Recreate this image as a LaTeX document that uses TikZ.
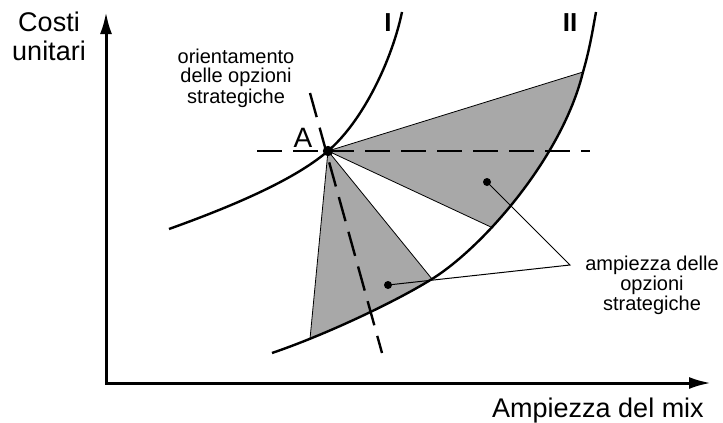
\documentclass[tikz,border=0pt]{standalone}
\usepackage{fontspec}
\setmainfont{Liberation Sans}
\usetikzlibrary{arrows.meta,calc}

\tikzset{
  axisline/.style={line width=1.5pt,
    {Latex[length=11pt,width=6pt]}-{Latex[length=11pt,width=6pt]}},
  curveline/.style={line width=1.2pt},
  guideline/.style={line width=1.2pt, dash pattern=on 12.5pt off 5.5pt},
  rayline/.style={line width=0.4pt},
  pointer/.style={line width=0.5pt},
  shade/.style={fill=black!34},
  smalltext/.style={font=\fontsize{10}{10}\selectfont, align=center, inner sep=0pt},
  bigtext/.style={font=\fontsize{13.5}{14.5}\selectfont, align=center, inner sep=0pt},
  curvelabel/.style={font=\fontsize{13}{13}\selectfont\bfseries, inner sep=0pt},
}

\begin{document}
\begin{tikzpicture}[x=0.5pt, y=-0.5pt]
\useasboundingbox (0,0) rectangle (723,423);

%% Key points (pixel grid, y downwards)
\coordinate (O) at (106,383);
\coordinate (ytip) at (106,12);
\coordinate (xtip) at (711,383);
\coordinate (A) at (328,151);
\coordinate (U1) at (583,72);   %% upper wedge, on curve II
\coordinate (U2) at (493,228);
\coordinate (L1) at (432,279);  %% lower wedge, on curve II
\coordinate (L2) at (310,339);
\coordinate (P1) at (487,182);  %% pointer dots
\coordinate (P2) at (388,285);
\coordinate (V) at (570,265);   %% pointer vertex

%% Shaded wedges, cut along curve II
\begin{scope}
  \clip (272,353) .. controls (325,335) and (395,302) .. (L1)
    .. controls (482,248) and (562,158) .. (U1)
    .. controls (590,48) and (593,28) .. (596,12)
    -- (596,0) -- (0,0) -- (0,423) -- (272,423) -- cycle;
  \fill[shade] (A) -- ($(A)!1.3!(U1)$) -- ($(A)!1.3!(U2)$) -- cycle;
  \fill[shade] (A) -- ($(A)!1.3!(L1)$) -- ($(A)!1.3!(L2)$) -- cycle;
\end{scope}
\draw[rayline] (U1) -- (A) -- (U2);
\draw[rayline] (L1) -- (A) -- (L2);

%% Curve I
\draw[curveline] (169,229) .. controls (250,200) and (300,175) .. (A)
  .. controls (363,121) and (392,60) .. (402,12);
%% Curve II
\draw[curveline] (272,353) .. controls (325,335) and (395,302) .. (L1)
  .. controls (482,248) and (562,158) .. (U1)
  .. controls (590,48) and (593,28) .. (596,12);

%% Dashed guides through A
\draw[guideline] (257,151) -- (590,151);
\draw[guideline] (310,93) -- (382,353);

%% Axes
\draw[axisline] (ytip) -- (O) -- (xtip);

%% Dots and pointers
\fill (A) circle (2.6pt);
\fill (P1) circle (2pt);
\fill (P2) circle (2pt);
\draw[pointer] (P1) -- (V) -- (P2);

%% Labels (base = last line)
\node[bigtext, anchor=base] (ylabel) at (49,61) {Costi\\unitari};
\node[bigtext, anchor=base] (xlabel) at (598,417) {Ampiezza del mix};
\node[smalltext, anchor=base] (orient) at (236,103)
  {orientamento\\delle opzioni\\strategiche};
\node[smalltext, anchor=base] (ampiezza) at (652,310)
  {ampiezza delle\\opzioni\\strategiche};
\node[font=\fontsize{14}{14}\selectfont, inner sep=0pt, anchor=base] (labA) at (303,147) {A};
\node[curvelabel, anchor=base] (labI) at (388,32) {I};
\node[curvelabel, anchor=base] (labII) at (570,32) {II};

\end{tikzpicture}
\end{document}
